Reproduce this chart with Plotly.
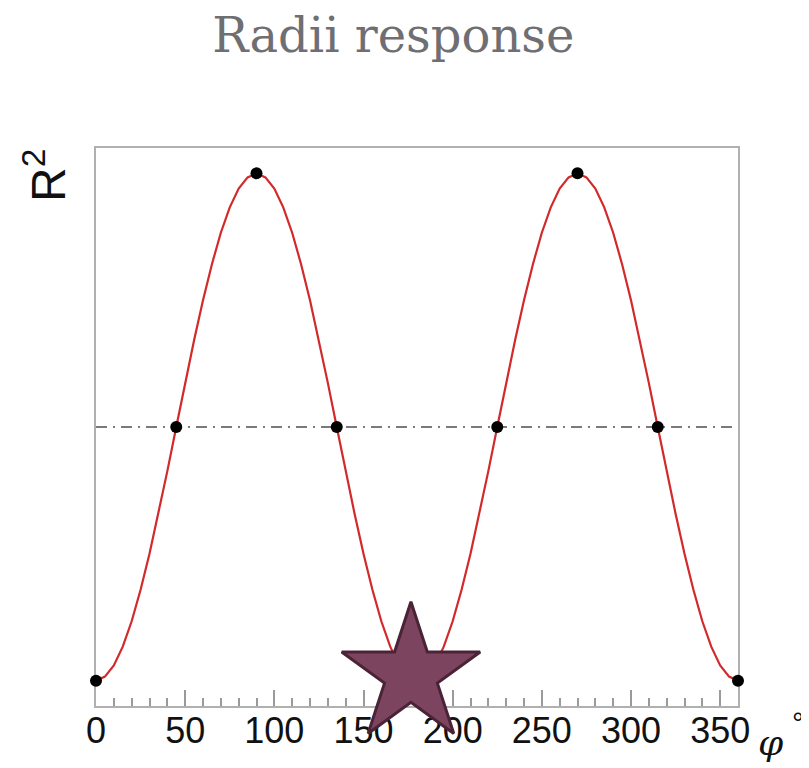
import plotly.graph_objects as go

# Curve samples (phi in degrees, R^2 normalised)
phi_curve = [0, 5, 10, 15, 20, 25, 30, 35, 40, 45, 50, 55, 60, 65, 70, 75, 80, 85, 90,
             95, 100, 105, 110, 115, 120, 125, 130, 135, 140, 145, 150, 155, 160, 165, 170, 175, 180,
             185, 190, 195, 200, 205, 210, 215, 220, 225, 230, 235, 240, 245, 250, 255, 260, 265, 270,
             275, 280, 285, 290, 295, 300, 305, 310, 315, 320, 325, 330, 335, 340, 345, 350, 355, 360]
r2_curve = [0.0, 0.008, 0.030, 0.067, 0.117, 0.179, 0.25, 0.329, 0.413, 0.5,
            0.587, 0.671, 0.75, 0.821, 0.883, 0.933, 0.970, 0.992, 1.0,
            0.992, 0.970, 0.933, 0.883, 0.821, 0.75, 0.671, 0.587, 0.5,
            0.413, 0.329, 0.25, 0.179, 0.117, 0.067, 0.030, 0.008, 0.0,
            0.008, 0.030, 0.067, 0.117, 0.179, 0.25, 0.329, 0.413, 0.5,
            0.587, 0.671, 0.75, 0.821, 0.883, 0.933, 0.970, 0.992, 1.0,
            0.992, 0.970, 0.933, 0.883, 0.821, 0.75, 0.671, 0.587, 0.5,
            0.413, 0.329, 0.25, 0.179, 0.117, 0.067, 0.030, 0.008, 0.0]

# Black marker points
phi_dots = [0, 45, 90, 135, 180, 225, 270, 315, 360]
r2_dots = [0.0, 0.5, 1.0, 0.5, 0.0, 0.5, 1.0, 0.5, 0.0]

# Mid reference line
phi_mid = [0, 360]
r2_mid = [0.5, 0.5]

# Star marker
star_phi = [176.6]
star_r2 = [0.012]

fig = go.Figure()
fig.add_trace(go.Scatter(x=phi_mid, y=r2_mid, mode="lines",
                         line=dict(color="#7a7a7a", width=2, dash="11px,6px,2px,6px"),
                         hoverinfo="skip", showlegend=False))
fig.add_trace(go.Scatter(x=phi_curve, y=r2_curve, mode="lines",
                         line=dict(color="#d22a2a", width=2.2),
                         showlegend=False))
fig.add_trace(go.Scatter(x=phi_dots, y=r2_dots, mode="markers",
                         marker=dict(color="black", size=12), cliponaxis=False,
                         showlegend=False))
fig.add_trace(go.Scatter(x=star_phi, y=star_r2, mode="markers",
                         marker=dict(symbol="star", size=104, color="#7d4460",
                                     line=dict(color="#4a2436", width=3)),
                         cliponaxis=False, showlegend=False))

fig.update_layout(
    width=801, height=760,
    margin=dict(l=88, r=71, t=140, b=62),
    paper_bgcolor="white", plot_bgcolor="white",
    title=dict(text="Radii response", x=0.481, xanchor="center",
               y=1 - 27 / 760, yref="container", yanchor="middle",
               font=dict(family="DejaVu Serif", size=48, color="#6f6f73")),
    xaxis=dict(range=[0, 360], tickvals=[0, 50, 100, 150, 200, 250, 300, 350],
               ticks="inside", ticklen=16, tickwidth=1.5, tickcolor="#9a9a9a",
               minor=dict(dtick=10, ticks="inside", ticklen=8, tickwidth=1.5, tickcolor="#9a9a9a"),
               showline=True, linecolor="#b0b0b0", linewidth=2, mirror=True,
               showgrid=False, zeroline=False, layer="below traces",
               tickfont=dict(family="Liberation Sans", size=36, color="#111111"),
               ticklabelstandoff=-8),
    yaxis=dict(range=[-0.05, 1.05], showticklabels=False, ticks="",
               showline=True, linecolor="#b0b0b0", linewidth=2, mirror=True,
               showgrid=False, zeroline=False, layer="below traces"),
    annotations=[
        dict(text="R<sup>2</sup>", xref="paper", yref="paper", x=0, y=1,
             xshift=-51, yshift=-28, textangle=-90, showarrow=False,
             xanchor="center", yanchor="middle",
             font=dict(family="Liberation Sans", size=48, color="#111111")),
        dict(text="<i>φ</i>", xref="paper", yref="paper", x=1, y=0,
             xshift=33, yshift=-36, showarrow=False, xanchor="center", yanchor="middle",
             font=dict(family="DejaVu Serif", size=36, color="#111111")),
        dict(text="°", xref="paper", yref="paper", x=1, y=0,
             xshift=60, yshift=-16, showarrow=False, xanchor="center", yanchor="middle",
             font=dict(family="Liberation Sans", size=30, color="#111111")),
    ],
)

fig.write_html("out.html")
